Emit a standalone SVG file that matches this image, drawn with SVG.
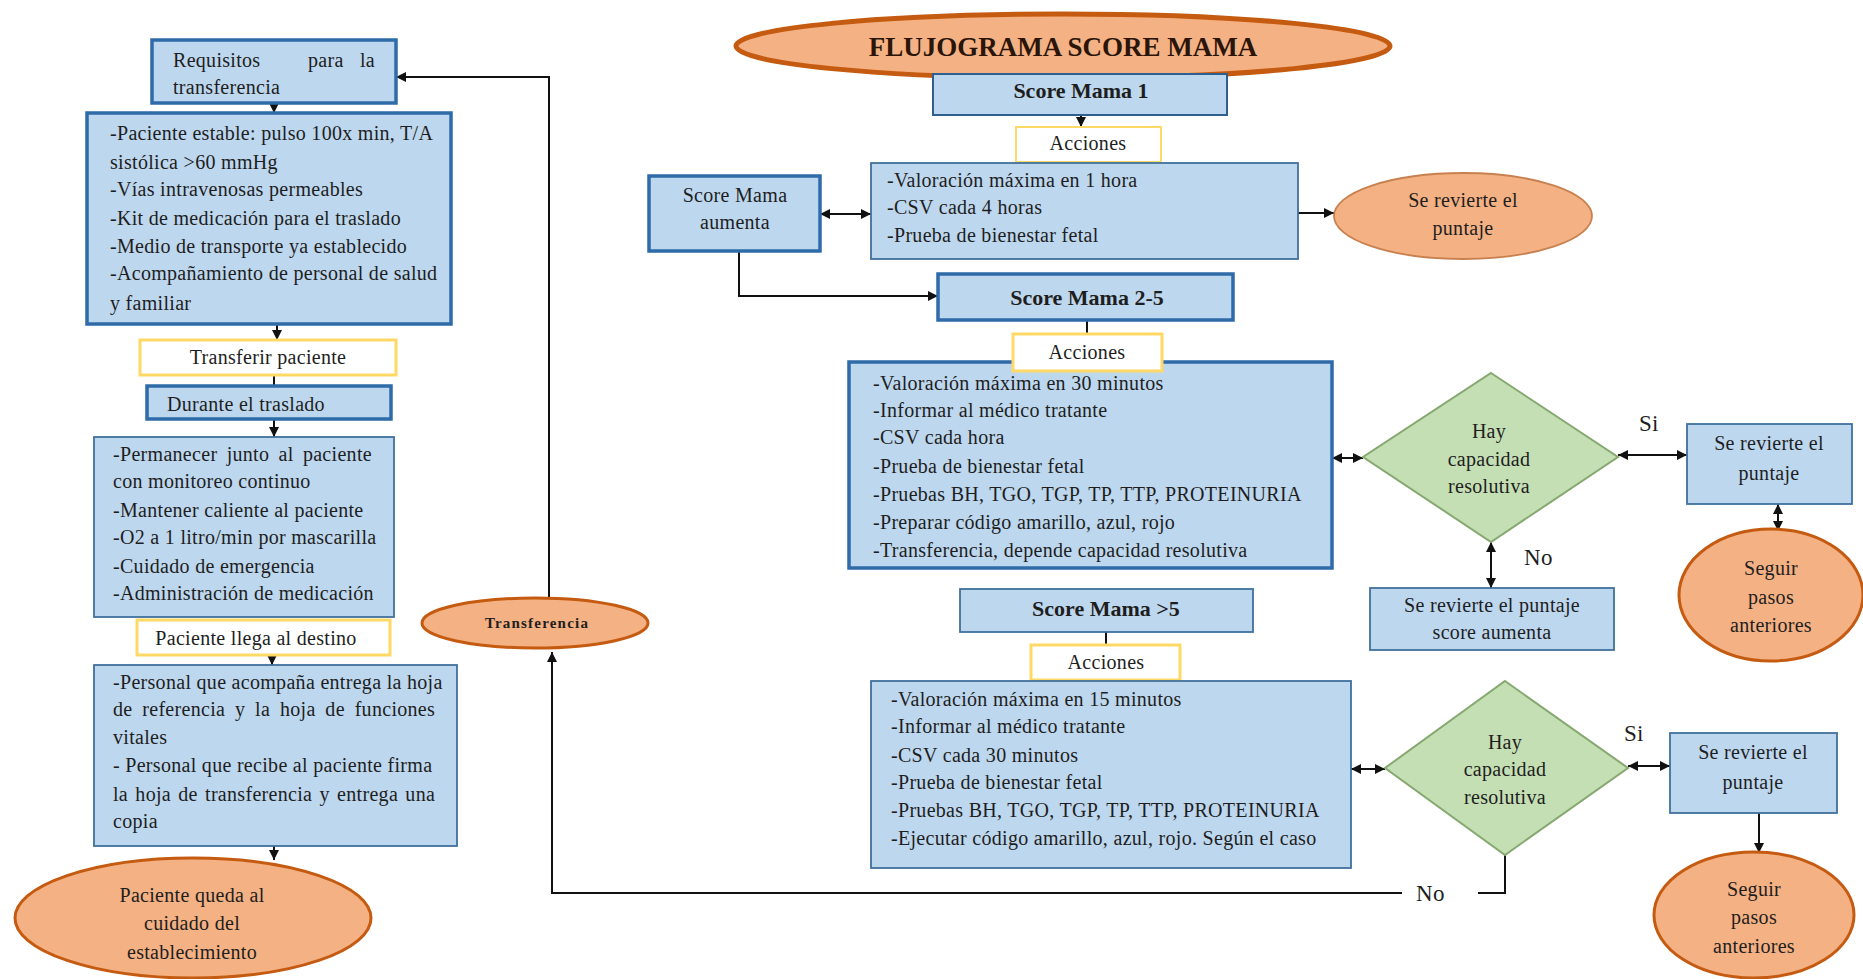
<svg xmlns="http://www.w3.org/2000/svg" width="1863" height="979" viewBox="0 0 1863 979">
<defs>
<marker id="ah" viewBox="0 0 10 10" refX="10" refY="5" markerWidth="10" markerHeight="10" markerUnits="userSpaceOnUse" orient="auto-start-reverse">
<path d="M0,0 L10,5 L0,10 z" fill="#111"/>
</marker>
<style>
.bx{fill:#BDD7EE;stroke:#41719C;stroke-width:1.8}
.bxt{fill:#BDD7EE;stroke:#2E6BA8;stroke-width:3.5}
.yl{fill:#FFFFFF;stroke:#FFD966;stroke-width:3}
.ell{fill:#F4B183;stroke:#C55A11;stroke-width:3}
.dia{fill:#C5DFB4;stroke:#86A870;stroke-width:2}
.t{font-family:"Liberation Serif","Times New Roman",serif;font-size:20px;letter-spacing:0.3px;fill:#1e1e1e}
.c{text-anchor:middle}
.e{text-anchor:end}
.b{font-weight:bold;letter-spacing:0}
.ln{fill:none;stroke:#111;stroke-width:2}
</style>
</defs>
<rect width="1863" height="979" fill="#FFFFFF"/>

<g id="connectors">
<line class="ln" x1="274" y1="103" x2="274" y2="113" marker-end="url(#ah)"/>
<line class="ln" x1="277" y1="324" x2="277" y2="340" marker-end="url(#ah)"/>
<line class="ln" x1="274" y1="375" x2="274" y2="386"/>
<line class="ln" x1="274" y1="419" x2="274" y2="437" marker-end="url(#ah)"/>
<line class="ln" x1="272" y1="641" x2="272" y2="665" marker-end="url(#ah)"/>
<line class="ln" x1="274" y1="846" x2="274" y2="860" marker-end="url(#ah)"/>
<polyline class="ln" points="549,598 549,77 396,77" marker-end="url(#ah)"/>
<line class="ln" x1="1081" y1="60" x2="1081" y2="74" marker-end="url(#ah)"/>
<line class="ln" x1="1081" y1="115" x2="1081" y2="127" marker-end="url(#ah)"/>
<line class="ln" x1="820" y1="214" x2="871" y2="214" marker-start="url(#ah)" marker-end="url(#ah)"/>
<polyline class="ln" points="739,251 739,296 938,296" marker-end="url(#ah)"/>
<line class="ln" x1="1298" y1="213" x2="1334" y2="213" marker-end="url(#ah)"/>
<line class="ln" x1="1087" y1="320" x2="1087" y2="334"/>
<line class="ln" x1="1332" y1="458" x2="1363" y2="458" marker-start="url(#ah)" marker-end="url(#ah)"/>
<line class="ln" x1="1618" y1="455" x2="1687" y2="455" marker-start="url(#ah)" marker-end="url(#ah)"/>
<line class="ln" x1="1778" y1="504" x2="1778" y2="531" marker-start="url(#ah)" marker-end="url(#ah)"/>
<line class="ln" x1="1491" y1="542" x2="1491" y2="588" marker-start="url(#ah)" marker-end="url(#ah)"/>
<line class="ln" x1="1106" y1="632" x2="1106" y2="645"/>
<line class="ln" x1="1351" y1="769" x2="1385" y2="769" marker-start="url(#ah)" marker-end="url(#ah)"/>
<line class="ln" x1="1628" y1="766" x2="1670" y2="766" marker-start="url(#ah)" marker-end="url(#ah)"/>
<line class="ln" x1="1759" y1="813" x2="1759" y2="853" marker-end="url(#ah)"/>
<polyline class="ln" points="1505,855 1505,893 1478,893"/>
<polyline class="ln" points="1402,893 552,893 552,652" marker-end="url(#ah)"/>
<text class="t" x="1416" y="901" style="font-size:23px">No</text>
<text class="t" x="1524" y="565" style="font-size:23px">No</text>
<text class="t" x="1639" y="431" style="font-size:23px">Si</text>
<text class="t" x="1624" y="741" style="font-size:23px">Si</text>
</g>

<g id="requisitos">
<rect class="bxt" x="152" y="40" width="244" height="63"/>
<text class="t" x="173" y="67">Requisitos</text>
<text class="t" x="308" y="67">para</text>
<text class="t e" x="375" y="67">la</text>
<text class="t" x="173" y="94">transferencia</text>
</g>

<g id="requisitos-lista">
<rect class="bxt" x="87" y="113" width="364" height="211"/>
<text class="t" x="110" y="140">-Paciente estable: pulso 100x min, T/A</text>
<text class="t" x="110" y="169">sistólica &gt;60 mmHg</text>
<text class="t" x="110" y="196">-Vías intravenosas permeables</text>
<text class="t" x="110" y="225">-Kit de medicación para el traslado</text>
<text class="t" x="110" y="253">-Medio de transporte ya establecido</text>
<text class="t" x="110" y="280">-Acompañamiento de personal de salud</text>
<text class="t" x="110" y="310">y familiar</text>
</g>

<g id="transferir">
<rect class="yl" x="140" y="340" width="256" height="35"/>
<text class="t c" x="268" y="364">Transferir paciente</text>
</g>

<g id="durante">
<rect class="bxt" x="147" y="386" width="244" height="33"/>
<text class="t c" x="246" y="411">Durante el traslado</text>
</g>

<g id="durante-lista">
<rect class="bx" x="94" y="437" width="300" height="180"/>
<text class="t" x="113" y="461" style="word-spacing:4px">-Permanecer junto al paciente</text>
<text class="t" x="113" y="488">con monitoreo continuo</text>
<text class="t" x="113" y="517">-Mantener caliente al paciente</text>
<text class="t" x="113" y="544">-O2 a 1 litro/min por mascarilla</text>
<text class="t" x="113" y="573">-Cuidado de emergencia</text>
<text class="t" x="113" y="600">-Administración de medicación</text>
</g>

<g id="llega">
<rect class="yl" x="137" y="620" width="253" height="35"/>
<text class="t c" x="256" y="645">Paciente llega al destino</text>
</g>

<g id="llega-lista">
<rect class="bx" x="94" y="665" width="363" height="181"/>
<text class="t" x="113" y="689">-Personal que acompaña entrega la hoja</text>
<text class="t" x="113" y="716" style="word-spacing:4.5px">de referencia y la hoja de funciones</text>
<text class="t" x="113" y="744">vitales</text>
<text class="t" x="113" y="772">- Personal que recibe al paciente firma</text>
<text class="t" x="113" y="801" style="word-spacing:2px">la hoja de transferencia y entrega una</text>
<text class="t" x="113" y="828">copia</text>
</g>

<g id="queda">
<ellipse class="ell" cx="193" cy="918" rx="178" ry="60"/>
<text class="t c" x="192" y="902">Paciente queda al</text>
<text class="t c" x="192" y="930">cuidado del</text>
<text class="t c" x="192" y="959">establecimiento</text>
</g>

<g id="transferencia">
<ellipse class="ell" cx="535" cy="623" rx="113" ry="25"/>
<text class="t c b" x="537" y="628" style="font-size:15px;letter-spacing:1.2px">Transferencia</text>
</g>

<g id="titulo">
<ellipse cx="1063" cy="46" rx="327" ry="32" fill="#F4B183" stroke="#C55A11" stroke-width="5"/>
<text class="t c b" x="1063" y="56" style="font-size:27px;fill:#2a1508">FLUJOGRAMA SCORE MAMA</text>
</g>

<g id="score1">
<rect class="bx" x="933" y="74" width="294" height="41" style="stroke:#2E5F8F;stroke-width:2"/>
<text class="t c b" x="1081" y="98" style="font-size:22px">Score Mama 1</text>
</g>

<g id="acciones1">
<rect class="yl" x="1016" y="127" width="145" height="35" style="stroke-width:2"/>
<text class="t c" x="1088" y="150">Acciones</text>
</g>

<g id="score1-lista">
<rect class="bx" x="871" y="163" width="427" height="96"/>
<text class="t" x="887" y="187">-Valoración máxima en 1 hora</text>
<text class="t" x="887" y="214">-CSV cada 4 horas</text>
<text class="t" x="887" y="242">-Prueba de bienestar fetal</text>
</g>

<g id="aumenta">
<rect class="bxt" x="649" y="176" width="171" height="75"/>
<text class="t c" x="735" y="202">Score Mama</text>
<text class="t c" x="735" y="229">aumenta</text>
</g>

<g id="revierte1">
<ellipse class="ell" cx="1463" cy="216" rx="129" ry="43" style="stroke-width:1.8;stroke:#C8804F"/>
<text class="t c" x="1463" y="207">Se revierte el</text>
<text class="t c" x="1463" y="235">puntaje</text>
</g>

<g id="score25">
<rect class="bxt" x="938" y="274" width="295" height="46"/>
<text class="t c b" x="1087" y="305" style="font-size:22px">Score Mama 2-5</text>
</g>

<g id="score25-lista">
<rect class="bxt" x="849" y="362" width="483" height="206"/>
<text class="t" x="873" y="390">-Valoración máxima en 30 minutos</text>
<text class="t" x="873" y="417">-Informar al médico tratante</text>
<text class="t" x="873" y="444">-CSV cada hora</text>
<text class="t" x="873" y="473">-Prueba de bienestar fetal</text>
<text class="t" x="873" y="501">-Pruebas BH, TGO, TGP, TP, TTP, PROTEINURIA</text>
<text class="t" x="873" y="529">-Preparar código amarillo, azul, rojo</text>
<text class="t" x="873" y="557">-Transferencia, depende capacidad resolutiva</text>
</g>

<g id="acciones2">
<rect class="yl" x="1013" y="334" width="149" height="37"/>
<text class="t c" x="1087" y="359">Acciones</text>
</g>

<g id="decision1">
<polygon class="dia" points="1491,373 1618,457 1491,542 1363,457"/>
<text class="t c" x="1489" y="438">Hay</text>
<text class="t c" x="1489" y="466">capacidad</text>
<text class="t c" x="1489" y="493">resolutiva</text>
</g>

<g id="revierte2">
<rect class="bx" x="1687" y="424" width="165" height="80"/>
<text class="t c" x="1769" y="450">Se revierte el</text>
<text class="t c" x="1769" y="480">puntaje</text>
</g>

<g id="seguir1">
<ellipse class="ell" cx="1771" cy="595" rx="92" ry="66"/>
<text class="t c" x="1771" y="575">Seguir</text>
<text class="t c" x="1771" y="604">pasos</text>
<text class="t c" x="1771" y="632">anteriores</text>
</g>

<g id="revierte-aumenta">
<rect class="bx" x="1370" y="588" width="244" height="62"/>
<text class="t c" x="1492" y="612">Se revierte el puntaje</text>
<text class="t c" x="1492" y="639">score aumenta</text>
</g>

<g id="score5">
<rect class="bx" x="960" y="589" width="293" height="43"/>
<text class="t c b" x="1106" y="616" style="font-size:22px">Score Mama &gt;5</text>
</g>

<g id="acciones3">
<rect class="yl" x="1031" y="645" width="149" height="35"/>
<text class="t c" x="1106" y="669">Acciones</text>
</g>

<g id="score5-lista">
<rect class="bx" x="871" y="681" width="480" height="187"/>
<text class="t" x="891" y="706">-Valoración máxima en 15 minutos</text>
<text class="t" x="891" y="733">-Informar al médico tratante</text>
<text class="t" x="891" y="762">-CSV cada 30 minutos</text>
<text class="t" x="891" y="789">-Prueba de bienestar fetal</text>
<text class="t" x="891" y="817">-Pruebas BH, TGO, TGP, TP, TTP, PROTEINURIA</text>
<text class="t" x="891" y="845">-Ejecutar código amarillo, azul, rojo. Según el caso</text>
</g>

<g id="decision2">
<polygon class="dia" points="1505,681 1628,768 1505,855 1385,768"/>
<text class="t c" x="1505" y="749">Hay</text>
<text class="t c" x="1505" y="776">capacidad</text>
<text class="t c" x="1505" y="804">resolutiva</text>
</g>

<g id="revierte3">
<rect class="bx" x="1670" y="733" width="167" height="80"/>
<text class="t c" x="1753" y="759">Se revierte el</text>
<text class="t c" x="1753" y="789">puntaje</text>
</g>

<g id="seguir2">
<ellipse class="ell" cx="1754" cy="915" rx="100" ry="63"/>
<text class="t c" x="1754" y="896">Seguir</text>
<text class="t c" x="1754" y="924">pasos</text>
<text class="t c" x="1754" y="953">anteriores</text>
</g>
</svg>
